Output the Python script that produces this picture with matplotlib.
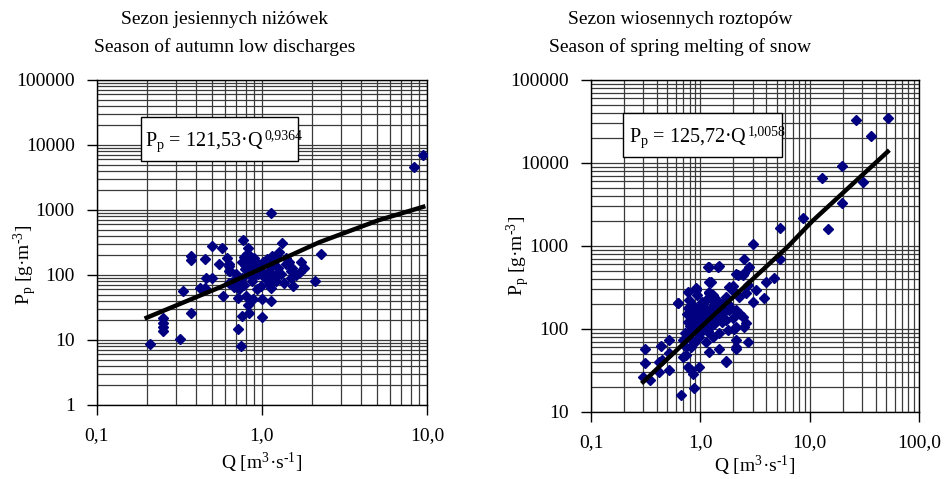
import matplotlib
matplotlib.use("Agg")
import matplotlib.pyplot as plt
from matplotlib.patches import Rectangle
from matplotlib.ticker import FixedLocator, FixedFormatter, LogLocator, NullFormatter

plt.rcParams['font.family'] = ['Liberation Serif', 'DejaVu Serif']
plt.rcParams['mathtext.fontset'] = 'custom'
plt.rcParams['mathtext.rm'] = 'Liberation Serif'
plt.rcParams['mathtext.it'] = 'Liberation Serif:italic'
plt.rcParams['font.size'] = 14

# --- dane: sezon jesiennych niżówek (Q, Pp) ---
q_jesien = [1.13, 1.33, 2.27, 0.77, 0.50, 0.57, 0.82, 0.37, 0.37, 0.45, 0.55,
            0.61, 0.63, 0.64, 0.63, 0.78, 0.80, 0.82, 0.84, 0.86, 0.79, 0.88,
            0.76, 0.83, 0.90, 0.81, 0.94, 0.94, 1.08, 1.15, 1.27, 1.21, 1.39,
            1.46, 1.53, 1.72, 1.49, 1.70, 1.10, 1.21, 1.13, 2.11, 1.49, 1.36,
            1.55, 0.98, 1.10, 1.13, 1.00, 1.13, 1.00, 0.82, 0.84, 0.76, 0.72,
            0.75, 0.58, 0.72, 0.80, 0.88, 0.68, 0.73, 0.78, 0.46, 0.50, 0.42,
            0.45, 0.33, 0.37, 0.25, 0.25, 0.25, 0.25, 0.32, 0.21, 0.69, 0.73,
            0.66, 0.63, 0.76, 0.63, 1.21, 8.4, 9.5, 0.85, 0.90, 0.95, 1.00,
            1.05, 0.87, 1.30, 1.25, 1.60, 1.80, 1.40, 1.17, 1.02, 0.70, 0.93,
            0.79, 0.84, 0.81]
p_jesien = [900, 310, 210, 349, 282, 260, 260, 198, 171, 174, 147,
            182, 150, 116, 139, 190, 170, 150, 200, 130, 140, 175,
            160, 120, 185, 210, 147, 122, 176, 198, 228, 198, 147,
            156, 130, 156, 116, 112, 116, 99, 86, 81, 91, 76,
            68, 68, 72, 64, 42, 40, 22.4, 34, 26, 23, 14.8,
            8.0, 47.5, 45, 47.5, 42, 66, 60, 70, 89, 89, 64,
            62, 57, 26, 22, 18.5, 16, 13.7, 10.5, 8.8, 86, 76,
            72, 76, 91, 116, 81, 4600, 7000, 100, 95, 105, 110,
            90, 80, 105, 130, 100, 130, 180, 150, 160, 102, 60,
            125, 110, 135]
# linia trendu
q_trend_jesien = [0.2, 0.575, 2.22, 5.12, 9.5]
p_trend_jesien = [22, 67, 318, 700, 1120]

# --- dane: sezon wiosennych roztopów (Q, Pp) ---
q_wiosna = [26.6, 51.7, 36.5, 19.6, 30.6, 13.0, 19.6, 14.7, 8.6, 5.4, 5.4,
            3.0, 2.53, 2.8, 1.19, 1.47, 2.12, 2.44, 4.0, 4.75, 3.23, 3.85,
            3.0, 2.71, 2.62, 1.84, 2.05, 2.27, 1.21, 1.21, 1.30, 0.91, 0.94,
            0.77, 0.63, 0.79, 0.85, 0.77, 0.98, 1.13, 1.30, 1.05, 1.21, 1.44,
            1.60, 1.84, 2.12, 1.98, 2.44, 2.62, 2.53, 1.78, 2.12, 1.49, 1.30,
            0.85, 0.79, 0.82, 0.88, 0.69, 0.74, 0.98, 1.13, 1.21, 1.49, 2.12,
            2.12, 1.72, 0.69, 0.74, 0.77, 0.82, 0.85, 0.98, 0.88, 0.67, 0.52,
            0.44, 0.52, 0.45, 0.52, 0.31, 0.31, 0.35, 0.30, 0.42, 0.42, 1.25,
            1.44, 1.17, 1.98, 2.2, 2.53, 2.71, 2.12, 2.05, 1.72, 0.91, 1.21,
            0.62, 0.77, 1.0, 1.05, 1.1, 1.15, 1.25, 1.35, 1.4, 1.55, 1.65,
            0.95, 1.0, 1.08, 1.18, 1.28, 1.38, 1.5, 1.62, 0.9, 0.95, 1.02,
            1.12, 1.22, 1.32, 0.86, 0.92, 0.98, 1.06, 1.16, 1.7, 1.9, 1.45,
            0.72, 0.8, 0.88, 0.96, 1.04, 1.14, 1.26, 1.36, 1.58, 0.75, 1.7,
            1.8, 2.3]
p_wiosna = [33000, 34600, 21100, 9100, 5850, 6540, 3270, 1590, 2160, 1660, 697,
            1050, 697, 553, 553, 570, 460, 447, 371, 408, 295, 234,
            213, 338, 269, 323, 281, 245, 371, 281, 257, 295, 257,
            281, 204, 223, 194, 177, 169, 169, 161, 141, 141, 141,
            154, 169, 169, 134, 141, 117, 107, 97, 107, 89, 81,
            97, 81, 61, 67, 74, 61, 81, 70, 53, 58, 58,
            74, 40, 46, 49, 35, 32, 29, 35, 19.3, 16, 74,
            62, 51, 42, 32, 57, 38.6, 24.3, 26.6, 30.5, 40, 371,
            560, 560, 330, 446, 470, 70, 60, 100, 41, 310, 275,
            204, 120, 130, 115, 150, 125, 180, 200, 160, 190, 210,
            100, 90, 110, 95, 120, 140, 170, 185, 140, 125, 150,
            135, 105, 115, 160, 110, 95, 200, 230, 240, 180, 220,
            90, 110, 125, 180, 210, 95, 230, 130, 120, 150, 130,
            200, 150]
q_trend_wiosna = [0.30, 1.2, 6.3, 10.6, 51.7]
p_trend_wiosna = [23, 130, 980, 2000, 13700]

kolor_pkt = '#000080'


def ustaw_os(ax, xlim, ylim, xticks, xlabels, yticks):
    ax.set_xscale('log')
    ax.set_yscale('log')
    ax.set_xlim(*xlim)
    ax.set_ylim(*ylim)
    ax.xaxis.set_major_locator(FixedLocator(xticks))
    ax.xaxis.set_major_formatter(FixedFormatter(xlabels))
    ax.yaxis.set_major_locator(FixedLocator(yticks))
    ax.yaxis.set_major_formatter(FixedFormatter([str(int(v)) for v in yticks]))
    ax.xaxis.set_minor_locator(LogLocator(base=10, subs=range(2, 10)))
    ax.yaxis.set_minor_locator(LogLocator(base=10, subs=range(2, 10)))
    ax.xaxis.set_minor_formatter(NullFormatter())
    ax.yaxis.set_minor_formatter(NullFormatter())
    ax.tick_params(which='major', direction='out', length=7, width=1,
                   labelsize=14, pad=9)
    ax.tick_params(which='minor', length=0)
    ax.grid(True, which='both', color='#3a3a3a', linewidth=0.9)
    for s in ax.spines.values():
        s.set_color('black')
        s.set_linewidth(1)
    ax.set_axisbelow(True)


def rownanie(ax, ramka, poz, tekst, wykladnik):
    # ramka z białym tłem + wzór z osobnym, mniejszym wykładnikiem
    ax.add_patch(Rectangle(ramka[:2], ramka[2], ramka[3], transform=ax.transAxes,
                           fc='white', ec='black', lw=1, zorder=5))
    t = ax.text(poz[0], poz[1], tekst, transform=ax.transAxes, ha='left',
                va='baseline', fontsize=14.5, zorder=6)
    ax.annotate(wykladnik, xy=(1, 0), xycoords=t, xytext=(0.5, 10.5),
                textcoords='offset points', ha='left', va='baseline',
                fontsize=10, zorder=6)


fig = plt.figure(figsize=(9.45, 4.79), dpi=100)

# --- lewy wykres ---
ax1 = fig.add_axes([0.1026, 0.1545, 0.3492, 0.6785])
ustaw_os(ax1, (0.1, 10), (1, 100000), [0.1, 1, 10], ['0,1', '1,0', '10,0'],
         [1, 10, 100, 1000, 10000, 100000])
ax1.plot(q_jesien, p_jesien, linestyle='none', marker='D', markersize=5.5,
         color=kolor_pkt, zorder=3)
ax1.plot(q_trend_jesien, p_trend_jesien, color='black', linewidth=3.2, zorder=4)
rownanie(ax1, (0.133, 0.751, 0.476, 0.135), (0.145, 0.797),
         r'P$_\mathrm{p}$ = 121,53·Q', '0,9364')

# --- prawy wykres ---
ax2 = fig.add_axes([0.6254, 0.1399, 0.3471, 0.6931])
ustaw_os(ax2, (0.1, 100), (10, 100000), [0.1, 1, 10, 100],
         ['0,1', '1,0', '10,0', '100,0'], [10, 100, 1000, 10000, 100000])
ax2.plot(q_wiosna, p_wiosna, linestyle='none', marker='D', markersize=5.5,
         color=kolor_pkt, zorder=3)
ax2.plot(q_trend_wiosna, p_trend_wiosna, color='black', linewidth=3.2, zorder=4)
rownanie(ax2, (0.098, 0.768, 0.485, 0.133), (0.116, 0.813),
         r'P$_\mathrm{p}$ = 125,72·Q', '1,0058')

# tytuły i opisy osi
fig.text(0.238, 1 - 20 / 479, 'Sezon jesiennych niżówek', ha='center', va='center', fontsize=14)
fig.text(0.238, 1 - 47 / 479, 'Season of autumn low discharges', ha='center', va='center', fontsize=14)
fig.text(0.7196, 1 - 20 / 479, 'Sezon wiosennych roztopów', ha='center', va='center', fontsize=14)
fig.text(0.7196, 1 - 47 / 479, 'Season of spring melting of snow', ha='center', va='center', fontsize=14)

xlab = r'Q [m$^{3}$·s$^{\text{-}1}$]'
ylab = r'P$_\mathrm{p}$ [g·m$^{\text{-}3}$]'
fig.text(262 / 945, 1 - 463 / 479, xlab, ha='center', va='center', fontsize=14)
fig.text(755 / 945, 1 - 466 / 479, xlab, ha='center', va='center', fontsize=14)
fig.text(25 / 945, 1 - 265 / 479, ylab, ha='center', va='center', rotation=90, fontsize=14)
fig.text(518 / 945, 1 - 256 / 479, ylab, ha='center', va='center', rotation=90, fontsize=14)

fig.savefig('out.png', dpi=100)
